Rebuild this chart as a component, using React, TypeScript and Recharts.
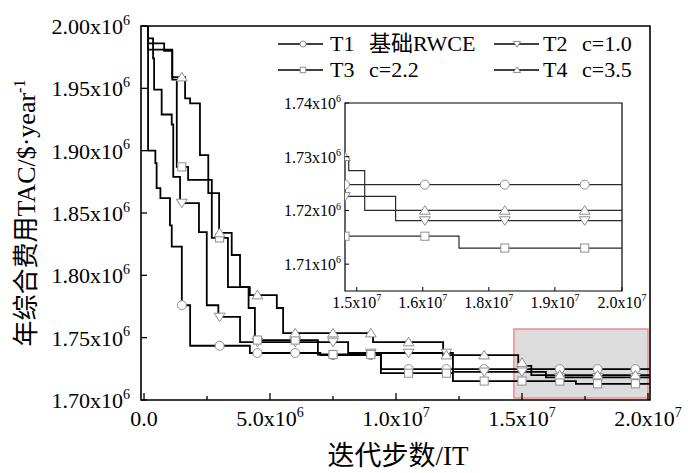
import React from 'react'
import { ComposedChart, Line, Scatter, XAxis, YAxis, ReferenceArea, Legend } from 'recharts'

// iterations and TAC both in units of 10^6
const t1Iter = [0, 0.16, 0.45, 0.5, 0.65, 1.03, 1.1, 1.5, 1.83, 4.2, 7.0, 9.4, 20.2]
const t1Tac = [2.0, 1.9, 1.89, 1.87, 1.862, 1.84, 1.823, 1.776, 1.7435, 1.7377, 1.736, 1.7248, 1.7248]

const t2Iter = [0, 0.16, 0.36, 0.4, 0.7, 1.1, 1.16, 1.43, 2.18, 2.49, 2.95, 3.81, 8.1, 12.26, 15.95, 20.2]
const t2Tac = [2.0, 1.99, 1.974, 1.949, 1.929, 1.921, 1.879, 1.858, 1.8347, 1.776, 1.7666, 1.7465, 1.7377, 1.7226, 1.7181, 1.7181]

const t3Iter = [0, 0.16, 1.12, 1.3, 1.75, 2.69, 3.33, 4.15, 4.4, 6.9, 9.4, 12.26, 17.14, 20.2]
const t3Tac = [2.0, 1.981, 1.957, 1.887, 1.8765, 1.83, 1.7906, 1.7738, 1.7481, 1.7365, 1.7215, 1.7152, 1.713, 1.713]

const t4Iter = [0, 0.16, 0.8, 1.12, 1.63, 1.83, 2.22, 2.55, 2.98, 3.48, 3.81, 4.2, 5.27, 5.52, 9.09, 11.87, 14.85, 15.07, 15.37, 20.2]
const t4Tac = [2.0, 1.986, 1.98, 1.959, 1.942, 1.938, 1.8965, 1.866, 1.834, 1.8163, 1.7906, 1.7842, 1.7738, 1.7537, 1.7465, 1.736, 1.73, 1.7274, 1.72, 1.72]

const markerIter = [1.5, 3.0, 4.5, 6.0, 7.5, 9.0, 10.5, 12.0, 13.5, 15.0, 16.5, 18.0, 19.5]

const mainXMajor = [0, 5, 10, 15, 20]
const mainXMinor = [2.5, 7.5, 12.5, 17.5]
const mainYTicks = [1.7, 1.75, 1.8, 1.85, 1.9, 1.95, 2.0]
const insetXTicks = [15.22, 16.46, 17.7, 18.94, 20.2]
const insetYTicks = [1.71, 1.72, 1.73, 1.74]

const mainXDomain = [-0.12, 20.08]
const mainYDomain = [1.7, 2.0]
const insetXDomain = [15.0, 20.2]
const insetYDomain = [1.705, 1.74]
// highlighted region that the inset magnifies
const zoomIter = [14.68, 20.0]
const zoomTac = [1.7016, 1.757]

const SERIF = '"Liberation Serif", "Times New Roman", "Noto Sans CJK SC", serif'
const MARK = '#8e8e8e'

type Kind = 'circle' | 'down' | 'square' | 'up'
const series = [
  { key: 't1', name: 'T1', note: '基础RWCE', iter: t1Iter, tac: t1Tac, kind: 'circle' as Kind },
  { key: 't2', name: 'T2', note: 'c=1.0', iter: t2Iter, tac: t2Tac, kind: 'down' as Kind },
  { key: 't3', name: 'T3', note: 'c=2.2', iter: t3Iter, tac: t3Tac, kind: 'square' as Kind },
  { key: 't4', name: 'T4', note: 'c=3.5', iter: t4Iter, tac: t4Tac, kind: 'up' as Kind },
]

const pointsOf = (s: typeof series[number]) => s.iter.map((x, i) => ({ x, y: s.tac[i] }))

// value of the step curve at iteration x
const stepValue = (s: typeof series[number], x: number) => {
  let v = s.tac[0]
  s.iter.forEach((ix, i) => {
    if (ix <= x) v = s.tac[i]
  })
  return v
}

const markersOf = (s: typeof series[number], from: number) =>
  markerIter.filter((x) => x >= from).map((x) => ({ x, y: stepValue(s, x) }))

function sci(v: number, digits: number, fixedExp?: number) {
  if (v === 0) return { mant: (0).toFixed(digits), exp: null as number | null }
  const raw = v * 1e6
  const exp = fixedExp ?? Math.floor(Math.log10(raw) + 1e-9)
  return { mant: (raw / Math.pow(10, exp)).toFixed(digits), exp }
}

function SciText({ x, y, v, digits, exp, size, anchor }: any) {
  const p = sci(v, digits, exp)
  const sup = Math.round(size * 0.64)
  return (
    <text x={x} y={y} textAnchor={anchor} fontFamily={SERIF} fontSize={size} fill="#000">
      <tspan>{p.mant}{p.exp != null ? 'x10' : ''}</tspan>
      {p.exp != null && <tspan dy={-size * 0.42} fontSize={sup}>{p.exp}</tspan>}
    </text>
  )
}

function Marker({ cx, cy, kind, size }: { cx: number; cy: number; kind: Kind; size: number }) {
  const h = size / 2
  const common = { fill: '#fff', stroke: MARK, strokeWidth: 1 }
  if (kind === 'circle') return <circle cx={cx} cy={cy} r={h} {...common} />
  if (kind === 'square') return <rect x={cx - h * 0.9} y={cy - h * 0.9} width={h * 1.8} height={h * 1.8} {...common} />
  if (kind === 'up')
    return <polygon points={`${cx},${cy - h * 1.05} ${cx - h * 1.2},${cy + h * 0.85} ${cx + h * 1.2},${cy + h * 0.85}`} {...common} />
  return <polygon points={`${cx},${cy + h * 1.05} ${cx - h * 1.2},${cy - h * 0.85} ${cx + h * 1.2},${cy - h * 0.85}`} {...common} />
}

function MainXTick({ x, y, payload }: any) {
  const major = mainXMajor.includes(payload.value)
  return (
    <g>
      <line x1={x} x2={x} y1={y} y2={y - (major ? 7 : 4)} stroke="#000" strokeWidth={1.3} />
      {major && <SciText x={x} y={y + 26} v={payload.value} digits={1} size={22} anchor="middle" />}
    </g>
  )
}

function MainYTick({ x, y, payload }: any) {
  return (
    <g>
      <line x1={x} x2={x + 6} y1={y} y2={y} stroke="#000" strokeWidth={1.3} />
      <SciText x={x - 11} y={y + 8} v={payload.value} digits={2} exp={6} size={22} anchor="end" />
    </g>
  )
}

function InsetXTick({ x, y, payload }: any) {
  return (
    <g>
      <line x1={x} x2={x} y1={y} y2={y - 4} stroke="#000" strokeWidth={1} />
      <SciText x={x} y={y + 17} v={payload.value} digits={1} exp={7} size={16} anchor="middle" />
    </g>
  )
}

function InsetYTick({ x, y, payload }: any) {
  return (
    <g>
      <line x1={x} x2={x + 4} y1={y} y2={y} stroke="#000" strokeWidth={1} />
      <SciText x={x - 4} y={y + 6} v={payload.value} digits={2} exp={6} size={16} anchor="end" />
    </g>
  )
}

function XTitle() {
  return (
    <text x={398} y={465} textAnchor="middle" fontFamily={SERIF} fontSize={27} fill="#000">
      迭代步数/IT
    </text>
  )
}

function YTitle() {
  return (
    <text transform="translate(35, 213) rotate(-90)" textAnchor="middle" fontFamily={SERIF} fontSize={26} fill="#000">
      <tspan>年综合费用TAC/$·year</tspan>
      <tspan dy={-10} fontSize={16}>-1</tspan>
    </text>
  )
}

function LegendBox() {
  const cols = [
    { line: [8, 53], mark: 33, text: 60 },
    { line: [224, 269], mark: 247, text: 273 },
  ]
  const rows = [16, 42]
  return (
    <svg width={380} height={60} style={{ overflow: 'visible' }}>
      {series.map((s, i) => {
        const c = cols[i % 2]
        const r = rows[Math.floor(i / 2)]
        return (
          <g key={s.key}>
            <line x1={c.line[0]} x2={c.line[1]} y1={r} y2={r} stroke="#000" strokeWidth={1.5} />
            <Marker cx={c.mark} cy={r} kind={s.kind} size={6} />
            <text x={c.text} y={r + 7} fontFamily={SERIF} fontSize={22} fill="#000">
              {s.name}
            </text>
            <text x={c.text + 39} y={r + 7} fontFamily={SERIF} fontSize={22} fill="#000">
              {s.note}
            </text>
          </g>
        )
      })}
    </svg>
  )
}

export default function App() {
  return (
    <div style={{ position: 'absolute', left: 0, top: 0, width: 688, height: 473, background: '#fff' }}>
      <div style={{ position: 'absolute', left: 0, top: 0 }}>
        <ComposedChart width={688} height={473} margin={{ top: 26, right: 38, bottom: 0, left: 0 }}>
          <XAxis
            dataKey="x"
            type="number"
            domain={mainXDomain}
            allowDataOverflow
            ticks={[...mainXMajor, ...mainXMinor]}
            interval={0}
            height={73}
            tickSize={0}
            tickMargin={0}
            axisLine={false}
            tickLine={false}
            tick={<MainXTick />}
            label={<XTitle />}
          />
          <YAxis
            dataKey="y"
            type="number"
            domain={mainYDomain}
            allowDataOverflow
            ticks={mainYTicks}
            interval={0}
            width={141}
            tickSize={0}
            tickMargin={0}
            axisLine={false}
            tickLine={false}
            tick={<MainYTick />}
            label={<YTitle />}
          />
          <ReferenceArea
            x1={zoomIter[0]}
            x2={zoomIter[1]}
            y1={zoomTac[0]}
            y2={zoomTac[1]}
            fill="#dcdcdc"
            fillOpacity={1}
            stroke="#f08a8a"
            strokeWidth={1.5}
          />
          {series.map((s) => (
            <Line
              key={s.key}
              data={pointsOf(s)}
              dataKey="y"
              type="stepAfter"
              stroke="#000"
              strokeWidth={1.8}
              dot={false}
              activeDot={false}
              isAnimationActive={false}
            />
          ))}
          {series.map((s) => (
            <Scatter
              key={s.key + 'm'}
              data={markersOf(s, 0)}
              dataKey="y"
              isAnimationActive={false}
              shape={(p: any) => <Marker cx={p.cx} cy={p.cy} kind={s.kind} size={9} />}
            />
          ))}
          <ReferenceArea
            x1={mainXDomain[0]}
            x2={mainXDomain[1]}
            y1={mainYDomain[0]}
            y2={mainYDomain[1]}
            fill="none"
            stroke="#000"
            strokeWidth={1.6}
          />
          <Legend
            layout="horizontal"
            verticalAlign="middle"
            align="center"
            content={<LegendBox />}
            wrapperStyle={{ left: 270, top: 28, width: 380, height: 60 }}
          />
        </ComposedChart>
      </div>
      <div style={{ position: 'absolute', left: 0, top: 0 }}>
        <ComposedChart width={688} height={473} margin={{ top: 103, right: 66, bottom: 0, left: 0 }}>
          <XAxis
            dataKey="x"
            type="number"
            domain={insetXDomain}
            allowDataOverflow
            ticks={insetXTicks}
            interval={0}
            height={182}
            tickSize={0}
            tickMargin={0}
            axisLine={false}
            tickLine={false}
            tick={<InsetXTick />}
          />
          <YAxis
            dataKey="y"
            type="number"
            domain={insetYDomain}
            allowDataOverflow
            ticks={insetYTicks}
            interval={0}
            width={345}
            tickSize={0}
            tickMargin={0}
            axisLine={false}
            tickLine={false}
            tick={<InsetYTick />}
          />
          {series.map((s) => (
            <Line
              key={s.key}
              data={pointsOf(s)}
              dataKey="y"
              type="stepAfter"
              stroke="#2a2a2a"
              strokeWidth={1.2}
              dot={false}
              activeDot={false}
              isAnimationActive={false}
            />
          ))}
          {series.map((s) => (
            <Scatter
              key={s.key + 'm'}
              data={markersOf(s, insetXDomain[0])}
              dataKey="y"
              isAnimationActive={false}
              shape={(p: any) => <Marker cx={p.cx} cy={p.cy} kind={s.kind} size={9} />}
            />
          ))}
          <ReferenceArea
            x1={insetXDomain[0]}
            x2={insetXDomain[1]}
            y1={insetYDomain[0]}
            y2={insetYDomain[1]}
            fill="none"
            stroke="#000"
            strokeWidth={1.2}
          />
        </ComposedChart>
      </div>
    </div>
  )
}
